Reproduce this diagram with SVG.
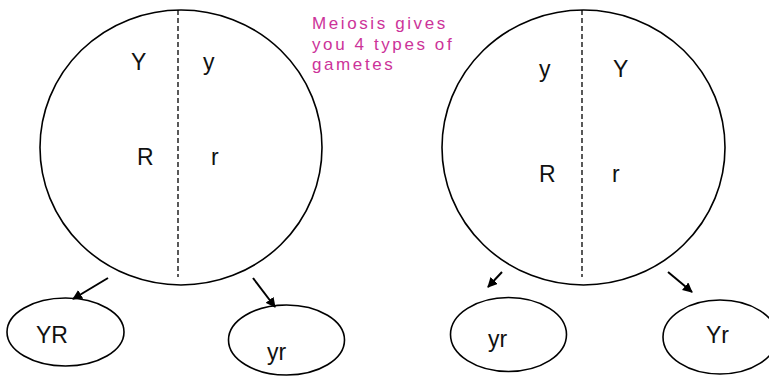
<svg xmlns="http://www.w3.org/2000/svg" width="769" height="380" viewBox="0 0 769 380">
<style>
.cell{fill:none;stroke:#000;stroke-width:1.6}
.div{stroke:#000;stroke-width:1.3;stroke-dasharray:5 3}
.lbl{font-family:"Liberation Sans",Arial,sans-serif;font-size:23px;fill:#111}
.note{font-family:"Liberation Sans",Arial,sans-serif;font-size:17px;fill:#cc3399;letter-spacing:2.6px}
.arr{stroke:#000;stroke-width:2;fill:none;marker-end:url(#ah)}
</style>
<defs>
<marker id="ah" viewBox="0 0 10 10" refX="9" refY="5" markerWidth="5" markerHeight="5" orient="auto" markerUnits="strokeWidth">
<path d="M0,0 L10,5 L0,10 z" fill="#000"/>
</marker>
</defs>
<rect width="769" height="380" fill="#fff"/>
<g id="note">
<text class="note" x="312" y="29">Meiosis gives</text>
<text class="note" x="312" y="49.5">you 4 types of</text>
<text class="note" x="312" y="70">gametes</text>
</g>
<g id="cell1">
<ellipse class="cell" cx="181" cy="147.5" rx="141" ry="137.5"/>
<line class="div" x1="178" y1="10" x2="178" y2="277"/>
<text class="lbl" x="131" y="70">Y</text>
<text class="lbl" x="203" y="70">y</text>
<text class="lbl" x="137" y="165">R</text>
<text class="lbl" x="211" y="165">r</text>
</g>
<g id="cell2">
<ellipse class="cell" cx="583.5" cy="147.5" rx="141.5" ry="137.5"/>
<line class="div" x1="582" y1="10" x2="582" y2="277"/>
<text class="lbl" x="539" y="77">y</text>
<text class="lbl" x="613" y="77">Y</text>
<text class="lbl" x="539" y="182">R</text>
<text class="lbl" x="612" y="182">r</text>
</g>
<g id="g1">
<ellipse class="cell" cx="65.5" cy="332" rx="58.5" ry="34"/>
<text class="lbl" x="36" y="343">YR</text>
</g>
<g id="g2">
<ellipse class="cell" cx="286.5" cy="340" rx="58" ry="35"/>
<text class="lbl" x="267" y="360">yr</text>
</g>
<g id="g3">
<ellipse class="cell" cx="508.5" cy="334.5" rx="58" ry="37"/>
<text class="lbl" x="488" y="347">yr</text>
</g>
<g id="g4">
<ellipse class="cell" cx="720" cy="337" rx="57" ry="37"/>
<text class="lbl" x="706" y="343">Yr</text>
</g>
<g id="connectors">
<line class="arr" x1="108" y1="278" x2="73" y2="299"/>
<line class="arr" x1="253" y1="278" x2="275" y2="307"/>
<line class="arr" x1="502" y1="272" x2="488" y2="287"/>
<line class="arr" x1="668" y1="272" x2="692" y2="292"/>
</g>
</svg>
